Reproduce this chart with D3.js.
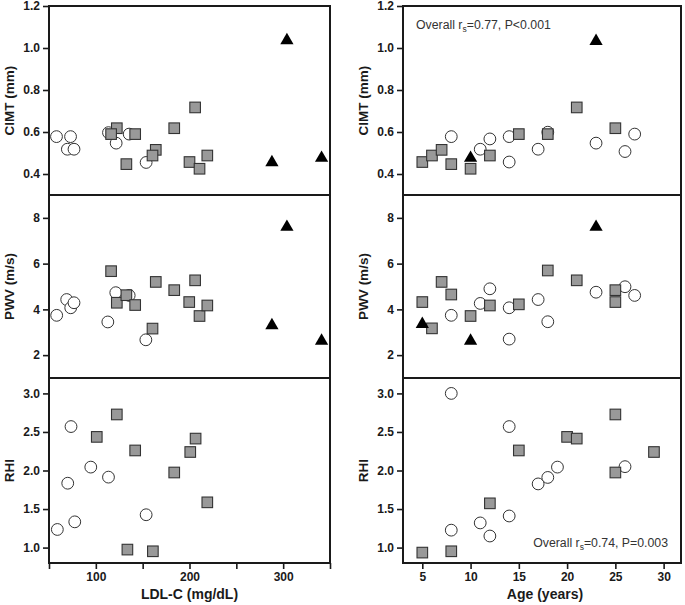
<!DOCTYPE html>
<html>
<head>
<meta charset="utf-8">
<script src="https://cdn.jsdelivr.net/npm/d3@7/dist/d3.min.js"></script>
<style>
  html, body { margin: 0; padding: 0; background: #fff; }
  svg { display: block; font-family: "Liberation Sans", Arial, sans-serif; }
</style>
</head>
<body>
<svg id="chart" width="685" height="605"></svg>
<script>
// ---------- Data (x, y) ----------
// Left column: LDL-C (mg/dL)
const ldlCimtCircles = [[58,0.578],[73,0.578],[69.6,0.518],[76.7,0.518],[113.5,0.597],[121.7,0.547],[135.6,0.59],[153.7,0.455]];
const ldlCimtSquares = [[122.4,0.618],[116.3,0.59],[142,0.59],[132.6,0.447],[164,0.515],[160.5,0.488],[183.7,0.618],[206,0.717],[200,0.457],[210.7,0.425],[219,0.488]];
const ldlCimtTriangles = [[304,1.036],[288,0.455],[341,0.476]];

const ldlPwvCircles = [[58.2,3.74],[68.9,4.43],[73.2,4.07],[76.7,4.29],[121.3,4.73],[135.6,4.61],[112.8,3.45],[153.4,2.67]];
const ldlPwvSquares = [[116.3,5.67],[122.4,4.29],[132.6,4.62],[142,4.19],[164,5.2],[160.5,3.16],[183.7,4.84],[206,5.27],[199.7,4.32],[210.7,3.71],[219,4.17]];
const ldlPwvTriangles = [[304,7.6],[288,3.3],[341,2.62]];

const ldlRhiCircles = [[58.9,1.235],[73.5,2.57],[70,1.835],[77.5,1.334],[94.6,2.044],[113.5,1.914],[153.7,1.426]];
const ldlRhiSquares = [[122.4,2.727],[101,2.436],[142,2.26],[133.7,0.974],[160.9,0.952],[183.7,1.974],[200.8,2.24],[206.5,2.414],[219,1.587]];
const ldlRhiTriangles = [];

// Right column: Age (years)
const ageCimtCircles = [[8,0.578],[11,0.518],[12,0.567],[14,0.578],[14,0.457],[17,0.518],[18,0.599],[23,0.547],[26,0.507],[27,0.59]];
const ageCimtSquares = [[5,0.457],[6,0.488],[7,0.515],[8,0.447],[10,0.425],[12,0.488],[15,0.59],[18,0.59],[21,0.717],[25,0.618]];
const ageCimtTriangles = [[23,1.033],[10,0.476]];

const agePwvCircles = [[8,3.74],[11,4.26],[12,4.9],[14,4.07],[14,2.7],[17,4.43],[18,3.46],[23,4.75],[26,4.99],[27,4.61]];
const agePwvSquares = [[5,4.32],[6,3.17],[7,5.2],[8,4.65],[10,3.71],[12,4.17],[15,4.22],[18,5.7],[21,5.27],[25,4.84],[25,4.32]];
const agePwvTriangles = [[5,3.35],[10,2.62],[23,7.6]];

const ageRhiCircles = [[8,3.0],[8,1.226],[11,1.32],[12,1.15],[14,1.41],[14,2.57],[17,1.826],[18,1.91],[19,2.044],[26,2.05]];
const ageRhiSquares = [[5,0.935],[8,0.952],[12,1.574],[15,2.26],[20,2.436],[21,2.414],[25,2.727],[25,1.974],[29,2.24]];
const ageRhiTriangles = [];

// Axis settings
const ldlDomain = [50, 350];
const ldlTicks = [50, 100, 150, 200, 250, 300, 350];
const ldlTickLabels = {100: "100", 200: "200", 300: "300"};
const ageDomain = [3, 31.8];
const ageTicks = [5, 10, 15, 20, 25, 30];

const cimtDomain = [0.3, 1.2];
const cimtTicks = [0.4, 0.6, 0.8, 1.0, 1.2];
const pwvDomain = [1, 9];
const pwvTicks = [2, 4, 6, 8];
const rhiDomain = [0.8, 3.2];
const rhiTicks = [1.0, 1.5, 2.0, 2.5, 3.0];

const rowTitles = ["CIMT (mm)", "PWV (m/s)", "RHI"];
const xTitles = ["LDL-C (mg/dL)", "Age (years)"];

// ---------- Layout ----------
const svg = d3.select("#chart");
const rows = [[6, 195], [195, 378], [378, 563]];
const cols = [[49, 330], [403, 681]];

const xScales = [
  d3.scaleLinear().domain(ldlDomain).range(cols[0]),
  d3.scaleLinear().domain(ageDomain).range(cols[1])
];
const yDomains = [cimtDomain, pwvDomain, rhiDomain];
const yTicks = [cimtTicks, pwvTicks, rhiTicks];
const yFormats = [d3.format(".1f"), d3.format("d"), d3.format(".1f")];

const panelData = [
  [[ldlCimtCircles, ldlCimtSquares, ldlCimtTriangles], [ageCimtCircles, ageCimtSquares, ageCimtTriangles]],
  [[ldlPwvCircles, ldlPwvSquares, ldlPwvTriangles], [agePwvCircles, agePwvSquares, agePwvTriangles]],
  [[ldlRhiCircles, ldlRhiSquares, ldlRhiTriangles], [ageRhiCircles, ageRhiSquares, ageRhiTriangles]]
];

const frameColor = "#1a1a1a";
const markStroke = "#333";
const triSym = d3.symbol().type(d3.symbolTriangle).size(76);

for (let c = 0; c < 2; c++) {
  const x = xScales[c];
  for (let r = 0; r < 3; r++) {
    const y = d3.scaleLinear().domain(yDomains[r]).range([rows[r][1], rows[r][0]]);
    const g = svg.append("g");

    // y axis
    const yAxis = d3.axisLeft(y).tickValues(yTicks[r]).tickFormat(yFormats[r]).tickSize(6).tickPadding(3);
    const ya = g.append("g").attr("transform", `translate(${cols[c][0]},0)`).call(yAxis);
    ya.select(".domain").remove();
    ya.selectAll("line").attr("stroke", frameColor).attr("stroke-width", 1.6);
    ya.selectAll("text").attr("font-size", 12).attr("font-weight", "bold").attr("fill", "#1a1a1a")
      .attr("font-family", "'Liberation Sans', Arial, sans-serif");

    // y title
    g.append("text")
      .attr("transform", `translate(${c === 0 ? 13.5 : 367.5},${(rows[r][0] + rows[r][1]) / 2}) rotate(-90)`)
      .attr("text-anchor", "middle")
      .attr("font-size", 13.5).attr("font-weight", "bold").attr("fill", "#1a1a1a")
      .text(rowTitles[r]);

    // marks
    const [circ, sq, tri] = panelData[r][c];
    g.selectAll("circle.m").data(circ).join("circle")
      .attr("cx", d => x(d[0])).attr("cy", d => y(d[1])).attr("r", 5.9)
      .attr("fill", "#fff").attr("stroke", markStroke).attr("stroke-width", 1);
    g.selectAll("rect.m").data(sq).join("rect")
      .attr("x", d => x(d[0]) - 5.3).attr("y", d => y(d[1]) - 5.3)
      .attr("width", 10.6).attr("height", 10.6)
      .attr("fill", "#999").attr("stroke", markStroke).attr("stroke-width", 1.1);
    g.selectAll("path.m").data(tri).join("path")
      .attr("d", triSym)
      .attr("transform", d => `translate(${x(d[0])},${y(d[1])})`)
      .attr("fill", "#000");

    // frame
    g.append("rect")
      .attr("x", cols[c][0]).attr("y", rows[r][0])
      .attr("width", cols[c][1] - cols[c][0]).attr("height", rows[r][1] - rows[r][0])
      .attr("fill", "none").attr("stroke", frameColor).attr("stroke-width", 2);
  }

  // x axis
  const xAxis = d3.axisBottom(x).tickSize(6).tickPadding(3);
  if (c === 0) {
    xAxis.tickValues(ldlTicks).tickFormat(d => ldlTickLabels[d] || "");
  } else {
    xAxis.tickValues(ageTicks).tickFormat(d3.format("d"));
  }
  const xa = svg.append("g").attr("transform", `translate(0,${rows[2][1]})`).call(xAxis);
  xa.select(".domain").remove();
  xa.selectAll("line").attr("stroke", frameColor).attr("stroke-width", 1.6);
  xa.selectAll("text").attr("font-size", 12).attr("font-weight", "bold").attr("fill", "#1a1a1a")
    .attr("font-family", "'Liberation Sans', Arial, sans-serif");

  svg.append("text")
    .attr("x", (cols[c][0] + cols[c][1]) / 2 + (c === 0 ? 0 : 3)).attr("y", 599)
    .attr("text-anchor", "middle")
    .attr("font-size", 14).attr("font-weight", "bold").attr("fill", "#1a1a1a")
    .text(xTitles[c]);
}

// annotations
function annot(xp, yp, anchor, rval, ptxt) {
  const t = svg.append("text").attr("x", xp).attr("y", yp).attr("text-anchor", anchor)
    .attr("font-size", 12.3).attr("fill", "#333");
  t.append("tspan").text("Overall r");
  t.append("tspan").attr("font-size", 8.5).attr("dy", 3).text("s");
  t.append("tspan").attr("dy", -3).text(`=${rval}, ${ptxt}`);
}
annot(416, 28.5, "start", "0.77", "P<0.001");
annot(668, 546.5, "end", "0.74", "P=0.003");
</script>
</body>
</html>
